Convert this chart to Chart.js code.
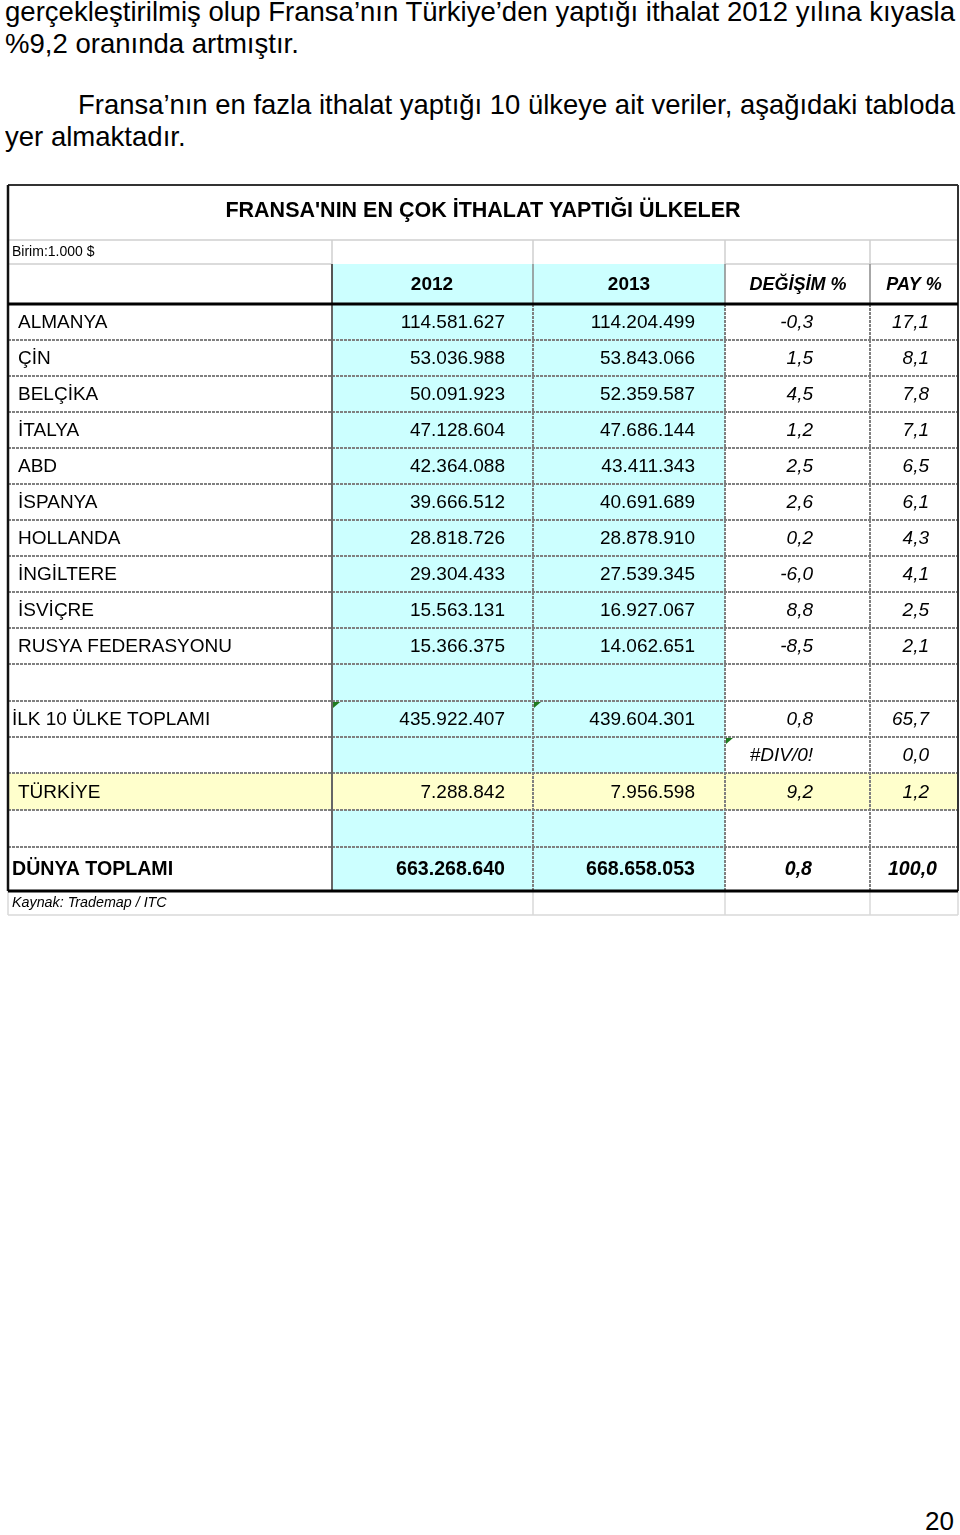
<!DOCTYPE html>
<html lang="tr">
<head>
<meta charset="utf-8">
<script src="https://cdn.jsdelivr.net/npm/chart.js@4/dist/chart.umd.min.js"></script>
<style>
  html, body { margin: 0; padding: 0; background: #fff; }
  body { width: 960px; height: 1535px; position: relative; overflow: hidden; font-family: "Liberation Sans", Arial, sans-serif; color: #000; }
  .line { position: absolute; font-size: 28px; line-height: 32px; white-space: nowrap; transform-origin: 0 0; }
  #tbl { position: absolute; left: 0; top: 180px; }
  #pageNo { position: absolute; left: 925px; top: 1506px; font-size: 26px; }
</style>
</head>
<body>
<div class="line" id="l1" style="left:5px;top:-4px">gerçekleştirilmiş olup Fransa’nın Türkiye’den yaptığı ithalat 2012 yılına kıyasla</div>
<div class="line" id="l2" style="left:5px;top:28px">%9,2 oranında artmıştır.</div>
<div class="line" id="l3" style="left:78px;top:89px">Fransa’nın en fazla ithalat yaptığı 10 ülkeye ait veriler, aşağıdaki tabloda</div>
<div class="line" id="l4" style="left:5px;top:121px">yer almaktadır.</div>
<canvas id="tbl" width="960" height="750"></canvas>
<div id="pageNo">20</div>
<script>
// Tablo verileri
const tableTitle = "FRANSA'NIN EN ÇOK İTHALAT YAPTIĞI ÜLKELER";
const unitNote = "Birim:1.000 $";
const sourceNote = "Kaynak: Trademap / ITC";
const columnHeaders = ["2012", "2013", "DEĞİŞİM %", "PAY %"];

const countries = ["ALMANYA", "ÇİN", "BELÇİKA", "İTALYA", "ABD", "İSPANYA", "HOLLANDA", "İNGİLTERE", "İSVİÇRE", "RUSYA FEDERASYONU"];
const imp2012 = [114581627, 53036988, 50091923, 47128604, 42364088, 39666512, 28818726, 29304433, 15563131, 15366375];
const imp2013 = [114204499, 53843066, 52359587, 47686144, 43411343, 40691689, 28878910, 27539345, 16927067, 14062651];
const changePct = [-0.3, 1.5, 4.5, 1.2, 2.5, 2.6, 0.2, -6.0, 8.8, -8.5];
const sharePct = [17.1, 8.1, 7.8, 7.1, 6.5, 6.1, 4.3, 4.1, 2.5, 2.1];

const totalLabels = ["İLK 10 ÜLKE TOPLAMI", "TÜRKİYE", "DÜNYA TOPLAMI"];
const total2012 = [435922407, 7288842, 663268640];
const total2013 = [439604301, 7956598, 668658053];
const totalChange = [0.8, 9.2, 0.8];
const totalShare = [65.7, 1.2, 100.0];
const errorRow = ["#DIV/0!", 0.0];

// Yerleşim (sayfa koordinatları)
const colEdges = [8, 332, 533, 725, 870, 958];
const rowEdges = [304, 340, 376, 412, 448, 484, 520, 556, 592, 628, 664, 701, 737, 773, 810, 847, 891];
const titleTop = 185, titleBottom = 240, unitBottom = 264, sourceBottom = 915;
const numRight = [505, 695, 813, 929];

const FONT = '"Liberation Sans", Arial, sans-serif';
const CYAN = "#ccffff", YELLOW = "#ffffcc";

function fmtInt(n) { return String(n).replace(/\B(?=(\d{3})+(?!\d))/g, "."); }
function fmtPct(v) { return v.toFixed(1).replace(".", ","); }

// Satır sırası: 10 ülke, boş, ilk 10, #DIV/0!, Türkiye, boş, dünya
function buildRows() {
  const rows = countries.map((c, i) => ({ label: c, v: [fmtInt(imp2012[i]), fmtInt(imp2013[i]), fmtPct(changePct[i]), fmtPct(sharePct[i])] }));
  rows.push(null);
  rows.push({ label: totalLabels[0], lx: 12, v: [fmtInt(total2012[0]), fmtInt(total2013[0]), fmtPct(totalChange[0]), fmtPct(totalShare[0])] });
  rows.push({ label: "", v: ["", "", errorRow[0], fmtPct(errorRow[1])] });
  rows.push({ label: totalLabels[1], fill: YELLOW, v: [fmtInt(total2012[1]), fmtInt(total2013[1]), fmtPct(totalChange[1]), fmtPct(totalShare[1])] });
  rows.push(null);
  rows.push({ label: totalLabels[2], lx: 12, bold: true, size: 19.6, v: [fmtInt(total2012[2]), fmtInt(total2013[2]), fmtPct(totalChange[2]), fmtPct(totalShare[2])], right: [505, 695, 812, 937] });
  return rows;
}
const tableRows = buildRows();

const tablePlugin = {
  id: "tableCells",
  beforeDraw(chart) {
    const ctx = chart.ctx, X = v => chart.scales.x.getPixelForValue(v), Y = v => chart.scales.y.getPixelForValue(v);
    ctx.save();
    ctx.fillStyle = "#fff";
    ctx.fillRect(0, 0, chart.width, chart.height);
    // cyan sütunlar
    ctx.fillStyle = CYAN;
    ctx.fillRect(X(colEdges[1]), Y(unitBottom), X(colEdges[3]) - X(colEdges[1]), Y(rowEdges[rowEdges.length - 1]) - Y(unitBottom));
    // sarı satır
    tableRows.forEach((r, i) => {
      if (r && r.fill) {
        ctx.fillStyle = r.fill;
        ctx.fillRect(X(colEdges[0]), Y(rowEdges[i]), X(colEdges[5]) - X(colEdges[0]), Y(rowEdges[i + 1]) - Y(rowEdges[i]));
      }
    });
    ctx.restore();
  },
  afterDraw(chart) {
    const ctx = chart.ctx, X = v => chart.scales.x.getPixelForValue(v), Y = v => chart.scales.y.getPixelForValue(v);
    const line = (x1, y1, x2, y2, color, w, dash) => {
      ctx.beginPath();
      ctx.strokeStyle = color; ctx.lineWidth = w; ctx.setLineDash(dash || []);
      ctx.moveTo(X(x1), Y(y1)); ctx.lineTo(X(x2), Y(y2)); ctx.stroke();
    };
    const L = colEdges[0], R = colEdges[5], bottom = rowEdges[rowEdges.length - 1];
    ctx.save();

    // açık gri çizgiler (başlık, birim, kaynak)
    line(L, titleBottom, R, titleBottom, "#cfcfcf", 1.5);
    line(L, unitBottom, colEdges[1], unitBottom, "#cfcfcf", 1.5);
    line(colEdges[3], unitBottom, R, unitBottom, "#cfcfcf", 1.5);
    [1, 2, 3, 4].forEach(c => line(colEdges[c], titleBottom, colEdges[c], unitBottom, "#cfcfcf", 1.5));
    line(L, sourceBottom, R, sourceBottom, "#d8d8d8", 1.5);
    [0, 2, 3, 4, 5].forEach(c => line(colEdges[c], bottom, colEdges[c], sourceBottom, "#d8d8d8", 1.5));

    // başlık satırı dikeyleri
    line(colEdges[1], unitBottom, colEdges[1], rowEdges[0], "#555", 2);
    [2, 3, 4].forEach(c => line(colEdges[c], unitBottom, colEdges[c], rowEdges[0], "#8a8a8a", 1.5));

    // veri ızgarası
    for (let i = 1; i < rowEdges.length - 1; i++) line(L, rowEdges[i], R, rowEdges[i], "#808080", 2, [3, 1]);
    line(colEdges[1], rowEdges[0], colEdges[1], bottom, "#666", 2);
    [2, 3, 4].forEach(c => line(colEdges[c], rowEdges[0], colEdges[c], bottom, "#808080", 2, [3, 1]));

    // dış çerçeve
    line(L, titleTop, R, titleTop, "#333", 2);
    line(L, titleTop, L, bottom, "#111", 2.5);
    line(R, titleTop, R, bottom, "#333", 2);
    line(L, rowEdges[0], R, rowEdges[0], "#000", 3);
    line(L, bottom, R, bottom, "#000", 3);

    // yorum üçgenleri
    ctx.fillStyle = "#1f7a1f";
    [[colEdges[1], rowEdges[11]], [colEdges[2], rowEdges[11]], [colEdges[3], rowEdges[12]]].forEach(([cx, cy]) => {
      ctx.beginPath();
      ctx.moveTo(X(cx) + 1, Y(cy) + 1); ctx.lineTo(X(cx) + 8, Y(cy) + 1); ctx.lineTo(X(cx) + 1, Y(cy) + 7);
      ctx.closePath(); ctx.fill();
    });

    // metinler
    ctx.fillStyle = "#000";
    ctx.textBaseline = "middle";
    ctx.textAlign = "center";
    ctx.font = "bold 21.5px " + FONT;
    ctx.fillText(tableTitle, X(483), Y((titleTop + titleBottom) / 2 - 1));
    ctx.textAlign = "left";
    ctx.font = "14px " + FONT;
    ctx.fillText(unitNote, X(12), Y((titleBottom + unitBottom) / 2 + 0.5));

    const hy = Y((unitBottom + rowEdges[0]) / 2 + 1);
    ctx.textAlign = "center";
    ctx.font = "bold 19px " + FONT;
    ctx.fillText(columnHeaders[0], X(432), hy);
    ctx.fillText(columnHeaders[1], X(629), hy);
    ctx.font = "italic bold 18px " + FONT;
    ctx.fillText(columnHeaders[2], X(798), hy);
    ctx.fillText(columnHeaders[3], X(914), hy);

    tableRows.forEach((r, i) => {
      if (!r) return;
      const cy = Y((rowEdges[i] + rowEdges[i + 1]) / 2 + 1);
      const b = r.bold ? "bold " : "";
      const sz = (r.size || 19) + "px ";
      const right = r.right || numRight;
      ctx.textAlign = "left";
      ctx.font = b + sz + FONT;
      if (r.label) ctx.fillText(r.label, X(r.lx || 18), cy);
      ctx.textAlign = "right";
      ctx.fillText(r.v[0], X(right[0]), cy);
      ctx.fillText(r.v[1], X(right[1]), cy);
      ctx.font = "italic " + b + sz + FONT;
      ctx.fillText(r.v[2], X(right[2]), cy);
      ctx.fillText(r.v[3], X(right[3]), cy);
    });

    ctx.textAlign = "left";
    ctx.font = "italic 14.3px " + FONT;
    ctx.fillText(sourceNote, X(12), Y((bottom + sourceBottom) / 2));
    ctx.restore();
  }
};

new Chart(document.getElementById("tbl"), {
  type: "scatter",
  data: { datasets: [] },
  options: {
    responsive: false,
    animation: false,
    events: [],
    layout: { padding: 0 },
    plugins: { legend: { display: false }, tooltip: { enabled: false } },
    scales: {
      x: { type: "linear", min: 0, max: 960, display: false },
      y: { type: "linear", min: 180, max: 930, reverse: true, display: false }
    }
  },
  plugins: [tablePlugin]
});

// Paragraf satırlarını dar yazı gibi sığdır
const l1 = document.getElementById("l1"), l3 = document.getElementById("l3");
const s = 950 / l1.getBoundingClientRect().width;
const s3 = 877 / l3.getBoundingClientRect().width;
["l1", "l2", "l4"].forEach(id => document.getElementById(id).style.transform = "scaleX(" + s + ")");
l3.style.transform = "scaleX(" + s3 + ")";
</script>
</body>
</html>
